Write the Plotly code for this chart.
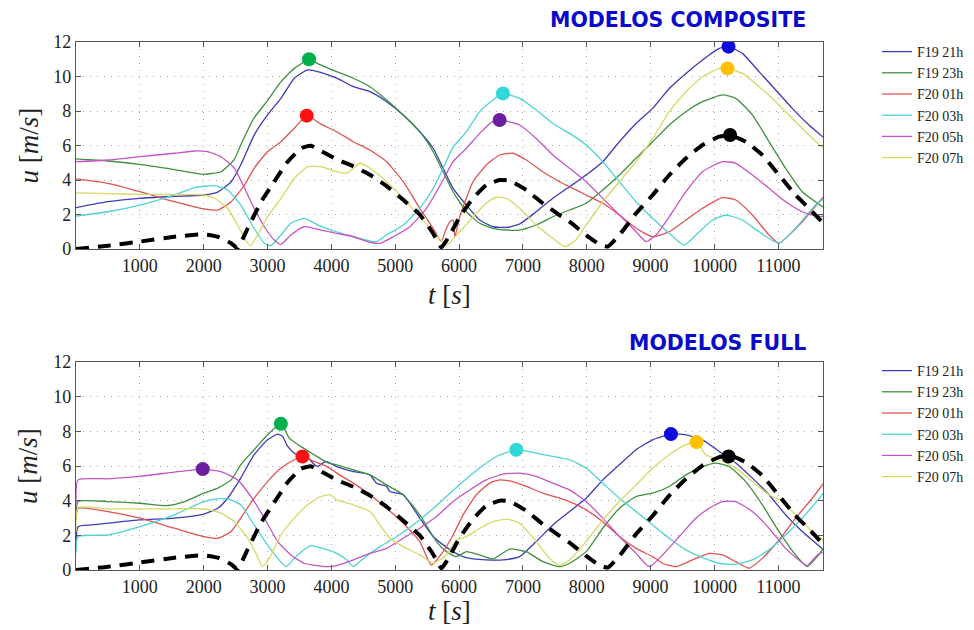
import plotly.graph_objects as go

# ---------------- DATA : MODELOS COMPOSITE (top panel) ----------------
comp_t_f19_21 = [0,500,1000,1540,2000,2220,2430,2580,2790,3000,3210,3420,3630,3830,4083,4344,4604,4865,5125,5385,5594,5750,5906,6115,6323,6531,6740,6948,7208,7469,7730,7990,8251,8511,8772,9032,9292,9553,9813,10074,10220,10438,10698,10959,11219,11480,11730]
comp_u_f19_21 = [2.4,2.74,2.94,3.05,3.13,3.3,3.9,4.87,6.6,7.77,8.73,9.9,10.38,10.24,9.9,9.41,9.12,8.54,7.77,6.8,5.84,4.68,3.52,2.55,1.68,1.29,1.25,1.45,2.16,2.94,3.61,4.29,5.06,6.22,7.28,8.15,9.3,10.18,10.96,11.63,11.73,11.34,10.28,9.22,8.15,7.19,6.4]

comp_t_f19_23 = [0,500,1000,1540,2000,2270,2480,2580,2790,3000,3210,3420,3650,3830,4083,4344,4604,4865,5125,5385,5594,5750,5906,6115,6323,6531,6740,6948,7208,7469,7730,7990,8251,8511,8772,9032,9292,9553,9813,10126,10334,10594,10855,11115,11376,11730]
comp_u_f19_23 = [5.22,5.1,4.9,4.6,4.33,4.48,5.2,6.03,7.6,8.6,9.7,10.47,10.96,10.67,10.28,9.9,9.41,8.64,7.77,6.8,5.64,4.48,3.32,2.16,1.49,1.2,1.1,1.1,1.39,1.87,2.26,2.65,3.42,4.29,5.26,6.22,7.19,7.96,8.54,8.93,8.73,7.77,6.22,4.68,3.32,2.36]

comp_t_f20_01 = [0,500,1000,1540,2000,2220,2430,2640,2790,3000,3210,3420,3614,3830,4083,4344,4604,4865,5125,5385,5594,5720,5802,5860,5906,5935,6010,6219,6427,6635,6844,7052,7312,7573,7730,7990,8251,8511,8772,9032,9292,9553,9813,10126,10334,10594,10855,11011,11167,11376,11730]
comp_u_f20_01 = [4.06,3.8,3.32,2.74,2.32,2.26,2.74,3.71,4.68,5.64,6.22,7.0,7.73,7.25,6.8,6.22,5.74,5.06,3.9,2.36,1.2,0.45,1.2,1.6,1.68,0.7,1.87,3.9,4.87,5.45,5.55,5.16,4.48,3.9,3.61,3.13,2.65,1.97,1.2,0.71,1.0,1.68,2.36,2.98,2.84,1.97,0.81,0.33,0.81,1.58,3.13]

comp_t_f20_03 = [0,500,1000,1540,1855,2170,2375,2580,2790,2950,3050,3210,3365,3570,3830,4083,4344,4604,4708,4865,5125,5385,5594,5750,5906,6115,6323,6531,6687,6948,7208,7469,7730,7990,8251,8511,8772,9032,9292,9527,9709,9970,10178,10438,10698,11011,11271,11584,11730]
comp_u_f20_03 = [1.91,2.16,2.55,3.13,3.56,3.67,3.42,2.55,1.2,0.33,0.19,0.81,1.49,1.78,1.33,1.0,0.71,0.46,0.43,0.81,1.39,2.36,3.52,4.68,5.9,6.8,7.96,8.64,9.02,8.73,8.06,7.28,6.7,6.03,5.06,3.9,2.74,1.78,0.91,0.23,0.81,1.68,1.97,1.68,1.0,0.33,1.2,2.55,2.94]

comp_t_f20_05 = [0,500,1000,1540,1855,2060,2270,2480,2640,2790,2950,3105,3210,3365,3570,3830,4083,4344,4604,4760,4969,5229,5490,5750,5906,6115,6323,6506,6635,6948,7208,7469,7730,7990,8251,8511,8772,8928,9084,9292,9553,9813,10126,10334,10594,10855,11115,11376,11532,11730]
comp_u_f20_05 = [5.06,5.16,5.35,5.55,5.68,5.64,5.35,4.68,3.52,2.36,1.29,0.52,0.27,0.81,1.29,1.1,0.91,0.71,0.39,0.33,0.71,1.29,2.36,4.0,5.06,5.84,6.7,7.34,7.48,7.19,6.41,5.45,4.68,3.9,2.94,1.97,1.0,0.43,0.81,1.87,3.32,4.48,5.06,4.97,4.29,3.52,2.74,2.16,1.97,1.87]

comp_t_f20_07 = [0,500,1000,1540,2000,2170,2375,2530,2640,2730,2845,3000,3210,3420,3630,3830,4083,4240,4344,4448,4604,4865,5125,5385,5594,5698,5802,6010,6219,6427,6583,6740,6948,7208,7469,7651,7823,7990,8251,8511,8772,9032,9292,9553,9813,10074,10204,10438,10698,10959,11219,11480,11730]
comp_u_f20_07 = [3.25,3.21,3.17,3.17,3.13,2.94,2.36,1.39,0.62,0.19,0.81,1.87,2.94,4.1,4.77,4.77,4.48,4.39,4.68,4.97,4.68,3.9,2.94,1.87,1.0,0.58,0.23,1.0,1.87,2.65,3.0,2.94,2.36,1.39,0.62,0.14,0.5,1.39,2.74,3.9,5.06,6.4,7.96,9.12,9.99,10.47,10.47,10.18,9.41,8.54,7.57,6.61,5.74]

# observation (black dashed), same in both panels
obs_t = [0,500,1000,1540,2000,2220,2430,2530,2690,2900,3105,3315,3525,3680,3830,4083,4344,4604,4865,5125,5385,5594,5724,5854,6010,6219,6427,6635,6792,7052,7312,7573,7730,7990,8199,8329,8511,8772,9032,9292,9553,9813,10074,10240,10490,10750,11011,11271,11480,11730]
obs_u = [0,0.19,0.43,0.71,0.85,0.71,0.33,0.04,1.2,2.74,3.9,5.06,5.84,5.99,5.7,5.2,4.8,4.3,3.65,2.85,2.0,0.9,0.1,0.81,1.87,2.94,3.71,4.0,3.96,3.42,2.65,1.97,1.58,0.81,0.27,0.14,0.81,2.07,3.13,4.29,5.26,6.03,6.51,6.61,6.22,5.45,4.29,3.13,2.36,1.39]

# peak markers (top)
comp_peak_t = [3650, 3614, 6687, 6635, 10220, 10204, 10245]
comp_peak_u = [11.0, 7.73, 9.02, 7.48, 11.73, 10.47, 6.61]

# ---------------- DATA : MODELOS FULL (bottom panel) ----------------
full_t_f19_21 = [0,32,240,500,1000,1540,2000,2220,2375,2580,2790,3000,3160,3235,3315,3420,3630,3780,3910,4083,4344,4604,4708,4865,4917,5125,5385,5594,5750,5906,6063,6219,6427,6687,6948,7208,7469,7730,7990,8251,8511,8772,9032,9318,9553,9813,10074,10334,10594,10855,11115,11376,11730]
full_u_f19_21 = [1.6,2.5,2.6,2.7,2.89,2.99,3.22,3.56,4.14,5.3,6.65,7.51,7.84,7.71,7.13,6.74,6.45,5.97,6.26,5.97,5.68,5.49,5.0,4.82,4.53,4.34,2.99,1.93,1.45,1.06,0.77,0.64,0.58,0.58,0.77,1.64,2.6,3.37,4.14,5.2,6.07,6.94,7.51,7.84,7.8,7.51,6.84,6.17,5.3,4.34,3.18,2.22,1.1]

full_t_f19_23 = [0,32,500,1000,1438,1700,2000,2220,2430,2580,2790,3000,3210,3340,3520,3730,3940,4083,4344,4604,4865,5125,5385,5646,5802,5958,6115,6323,6531,6792,7052,7312,7573,7730,7990,8251,8511,8772,9032,9292,9553,9813,10021,10230,10490,10750,11011,11271,11454,11584,11730]
full_u_f19_23 = [2.9,3.95,3.95,3.85,3.72,3.95,4.43,4.72,5.2,6.07,6.94,7.8,8.44,7.61,7.13,6.65,6.2,6.07,5.78,5.49,4.91,4.34,3.18,1.64,1.06,0.77,1.06,0.87,0.64,1.21,1.06,0.48,0.19,0.39,1.06,2.41,3.56,4.24,4.43,4.82,5.49,5.97,6.17,5.97,5.1,3.76,2.22,0.87,0.19,0.67,1.35]

full_t_f20_01 = [0,32,500,1000,1540,2000,2220,2430,2580,2790,3000,3210,3420,3547,3730,3940,4083,4344,4604,4865,5125,5385,5567,5750,5906,6063,6271,6479,6635,6844,7052,7312,7573,7730,7990,8251,8511,8772,9032,9188,9396,9657,9917,10126,10334,10542,10750,11011,11271,11532,11730]
full_u_f20_01 = [3.0,3.56,3.37,2.99,2.41,1.93,1.83,2.22,2.99,4.14,5.1,5.88,6.36,6.55,6.26,5.95,5.59,5.01,4.34,3.56,2.7,1.64,0.29,1.06,2.02,3.18,4.34,5.01,5.2,5.1,4.82,4.43,4.14,3.95,3.47,2.79,1.93,1.25,0.77,0.39,0.19,0.58,0.96,0.87,0.48,0.1,0.67,1.73,2.99,4.14,5.1]

full_t_f20_03 = [0,32,500,1000,1540,2000,2220,2375,2580,2790,3000,3160,3290,3470,3680,3900,4083,4240,4344,4500,4760,5021,5281,5541,5802,6063,6323,6583,6896,7208,7469,7730,7990,8251,8511,8772,9032,9292,9553,9813,10074,10334,10594,10855,11115,11376,11730]
full_u_f20_03 = [1.0,1.93,2.02,2.5,3.18,3.95,4.1,4.1,3.76,2.6,1.45,0.67,0.19,0.87,1.41,1.2,0.96,0.58,0.19,0.67,1.35,1.93,2.6,3.37,4.24,5.1,5.88,6.55,6.94,6.74,6.55,6.36,5.88,5.01,4.14,3.37,2.6,1.83,1.16,0.71,0.39,0.33,0.58,1.16,2.02,2.99,4.53]

full_t_f20_05 = [0,32,500,1000,1540,1985,2270,2530,2740,2950,3160,3365,3570,3780,3940,4083,4344,4604,4865,5125,5385,5646,5906,6167,6427,6687,6948,7208,7469,7730,7990,8251,8511,8772,8980,9188,9448,9709,9917,10126,10334,10594,10855,11115,11323,11454,11610,11730]
full_u_f20_05 = [3.6,5.2,5.26,5.4,5.65,5.82,5.68,5.2,4.24,2.99,1.64,0.87,0.39,0.25,0.19,0.25,0.58,0.96,1.25,1.83,2.41,3.08,3.95,4.62,5.2,5.53,5.59,5.4,5.01,4.62,3.95,2.99,1.93,0.96,0.19,0.87,1.93,2.99,3.56,3.95,3.95,3.37,2.41,1.25,0.58,0.25,0.87,1.06]

full_t_f20_07 = [0,32,500,1000,1540,2000,2270,2480,2690,2820,2920,3030,3210,3420,3630,3830,3980,4083,4344,4604,4760,4917,5125,5385,5594,5802,5958,6115,6323,6531,6740,6948,7208,7417,7573,7730,7990,8251,8511,8772,9032,9292,9553,9719,9865,10074,10334,10594,10855,11063,11271,11532,11730]
full_u_f20_07 = [2.2,3.6,3.53,3.53,3.53,3.53,3.28,2.79,1.83,0.96,0.19,0.67,2.02,2.99,3.76,4.24,4.34,4.05,3.76,3.37,2.6,1.83,1.35,0.87,0.39,0.87,1.73,1.93,2.41,2.79,2.93,2.7,1.64,0.67,0.25,0.58,1.64,2.89,3.95,4.91,5.88,6.65,7.23,7.38,6.65,6.36,5.88,5.1,4.34,3.95,3.18,2.22,1.64]

# peak markers (bottom)
full_peak_t = [1985, 3209, 3547, 6896, 9318, 9719, 10220]
full_peak_u = [5.82, 8.44, 6.55, 6.94, 7.84, 7.38, 6.55]

series_names = ["F19 21h", "F19 23h", "F20 01h", "F20 03h", "F20 05h", "F20 07h"]
x_tick_vals = [1000, 2000, 3000, 4000, 5000, 6000, 7000, 8000, 9000, 10000, 11000]
x_tick_text = ["1000", "2000", "3000", "4000", "5000", "6000", "7000", "8000", "9000", "10000", "11000"]
y_tick_vals = [0, 2, 4, 6, 8, 10, 12]
y_tick_text = ["0", "2", "4", "6", "8", "10", "12"]
panel_titles = ["MODELOS COMPOSITE", "MODELOS FULL"]

# ---------------- STYLE ----------------
line_colors = ["#3c3cb4", "#3f8f3f", "#e05353", "#4fd2d2", "#c455c4", "#d8d865"]
peak_colors = ["#00b04c", "#ff1010", "#30d8d8", "#6a1f9e", "#0a0ae0", "#ffc000", "#000000"]
peak_colors_full = ["#6a1f9e", "#00b04c", "#ff1010", "#30d8d8", "#0a0ae0", "#ffc000", "#000000"]
serif = "Liberation Serif"

comp_series = [(comp_t_f19_21, comp_u_f19_21), (comp_t_f19_23, comp_u_f19_23),
               (comp_t_f20_01, comp_u_f20_01), (comp_t_f20_03, comp_u_f20_03),
               (comp_t_f20_05, comp_u_f20_05), (comp_t_f20_07, comp_u_f20_07)]
full_series = [(full_t_f19_21, full_u_f19_21), (full_t_f19_23, full_u_f19_23),
               (full_t_f20_01, full_u_f20_01), (full_t_f20_03, full_u_f20_03),
               (full_t_f20_05, full_u_f20_05), (full_t_f20_07, full_u_f20_07)]

fig = go.Figure()

def add_panel(series, peak_t, peak_u, pcolors, xa, ya, legend):
    for (t, u), name, col in zip(series, series_names, line_colors):
        fig.add_trace(go.Scatter(x=t, y=u, mode="lines", name=name,
                                 line=dict(color=col, width=1.3, shape="spline", smoothing=0.5),
                                 xaxis=xa, yaxis=ya, legend=legend))
    fig.add_trace(go.Scatter(x=obs_t, y=obs_u, mode="lines", showlegend=False,
                             line=dict(color="black", width=4, dash="13px,9px", shape="spline", smoothing=0.4),
                             xaxis=xa, yaxis=ya))
    fig.add_trace(go.Scatter(x=peak_t, y=peak_u, mode="markers", showlegend=False,
                             marker=dict(color=pcolors, size=14, line=dict(width=0)),
                             xaxis=xa, yaxis=ya))

add_panel(comp_series, comp_peak_t, comp_peak_u, peak_colors, "x", "y", "legend")
add_panel(full_series, full_peak_t, full_peak_u, peak_colors_full, "x2", "y2", "legend2")

axis_common = dict(showline=True, linecolor="#555", linewidth=1.3, mirror="ticks",
                   ticks="inside", ticklen=5, tickcolor="#555", tickwidth=1,
                   showgrid=True, gridcolor="#aaa", gridwidth=1, griddash="1px,6px",
                   zeroline=False, tickfont=dict(family=serif, size=18, color="#222"))

x0, x1 = 76 / 974, 823 / 974
fig.update_layout(
    width=974, height=630, margin=dict(l=0, r=0, t=0, b=0, autoexpand=False),
    paper_bgcolor="white", plot_bgcolor="white",
    xaxis=dict(domain=[x0, x1], range=[0, 11700], tickvals=x_tick_vals, ticktext=x_tick_text, anchor="y", **axis_common),
    yaxis=dict(domain=[1 - 249 / 630, 1 - 42 / 630], range=[0, 12], tickvals=y_tick_vals, ticktext=y_tick_text, anchor="x", **axis_common),
    xaxis2=dict(domain=[x0, x1], range=[0, 11700], tickvals=x_tick_vals, ticktext=x_tick_text, anchor="y2", **axis_common),
    yaxis2=dict(domain=[1 - 570 / 630, 1 - 362 / 630], range=[0, 12], tickvals=y_tick_vals, ticktext=y_tick_text, anchor="x2", **axis_common),
    legend=dict(x=877 / 974, y=1 - 36 / 630, xanchor="left", yanchor="top",
                font=dict(family=serif, size=14, color="#222"), bgcolor="rgba(0,0,0,0)"),
    legend2=dict(x=877 / 974, y=1 - 355 / 630, xanchor="left", yanchor="top",
                 font=dict(family=serif, size=14, color="#222"), bgcolor="rgba(0,0,0,0)"),
    showlegend=True,
)

title_font = dict(family="DejaVu Sans", size=20.5, color="#0a0acc")
fig.add_annotation(text="<b>" + panel_titles[0] + "</b>", x=808 / 974, y=1 - 20 / 630, xref="paper", yref="paper",
                   xanchor="right", yanchor="middle", showarrow=False, font=title_font)
fig.add_annotation(text="<b>" + panel_titles[1] + "</b>", x=808 / 974, y=1 - 343 / 630, xref="paper", yref="paper",
                   xanchor="right", yanchor="middle", showarrow=False, font=title_font)

lab_font = dict(family=serif, size=27, color="#222")
for yc in [145.5, 466]:
    fig.add_annotation(text="<i>u</i> [<i>m</i>/<i>s</i>]", x=28 / 974, y=1 - yc / 630, xref="paper", yref="paper",
                       xanchor="center", yanchor="middle", textangle=-90, showarrow=False, font=lab_font)
for yc in [295, 611]:
    fig.add_annotation(text="<i>t</i> [<i>s</i>]", x=449.5 / 974, y=1 - yc / 630, xref="paper", yref="paper",
                       xanchor="center", yanchor="middle", showarrow=False, font=lab_font)

fig.write_html("out.html", config={"displayModeBar": False},
               post_script="document.body.style.margin='0';")
